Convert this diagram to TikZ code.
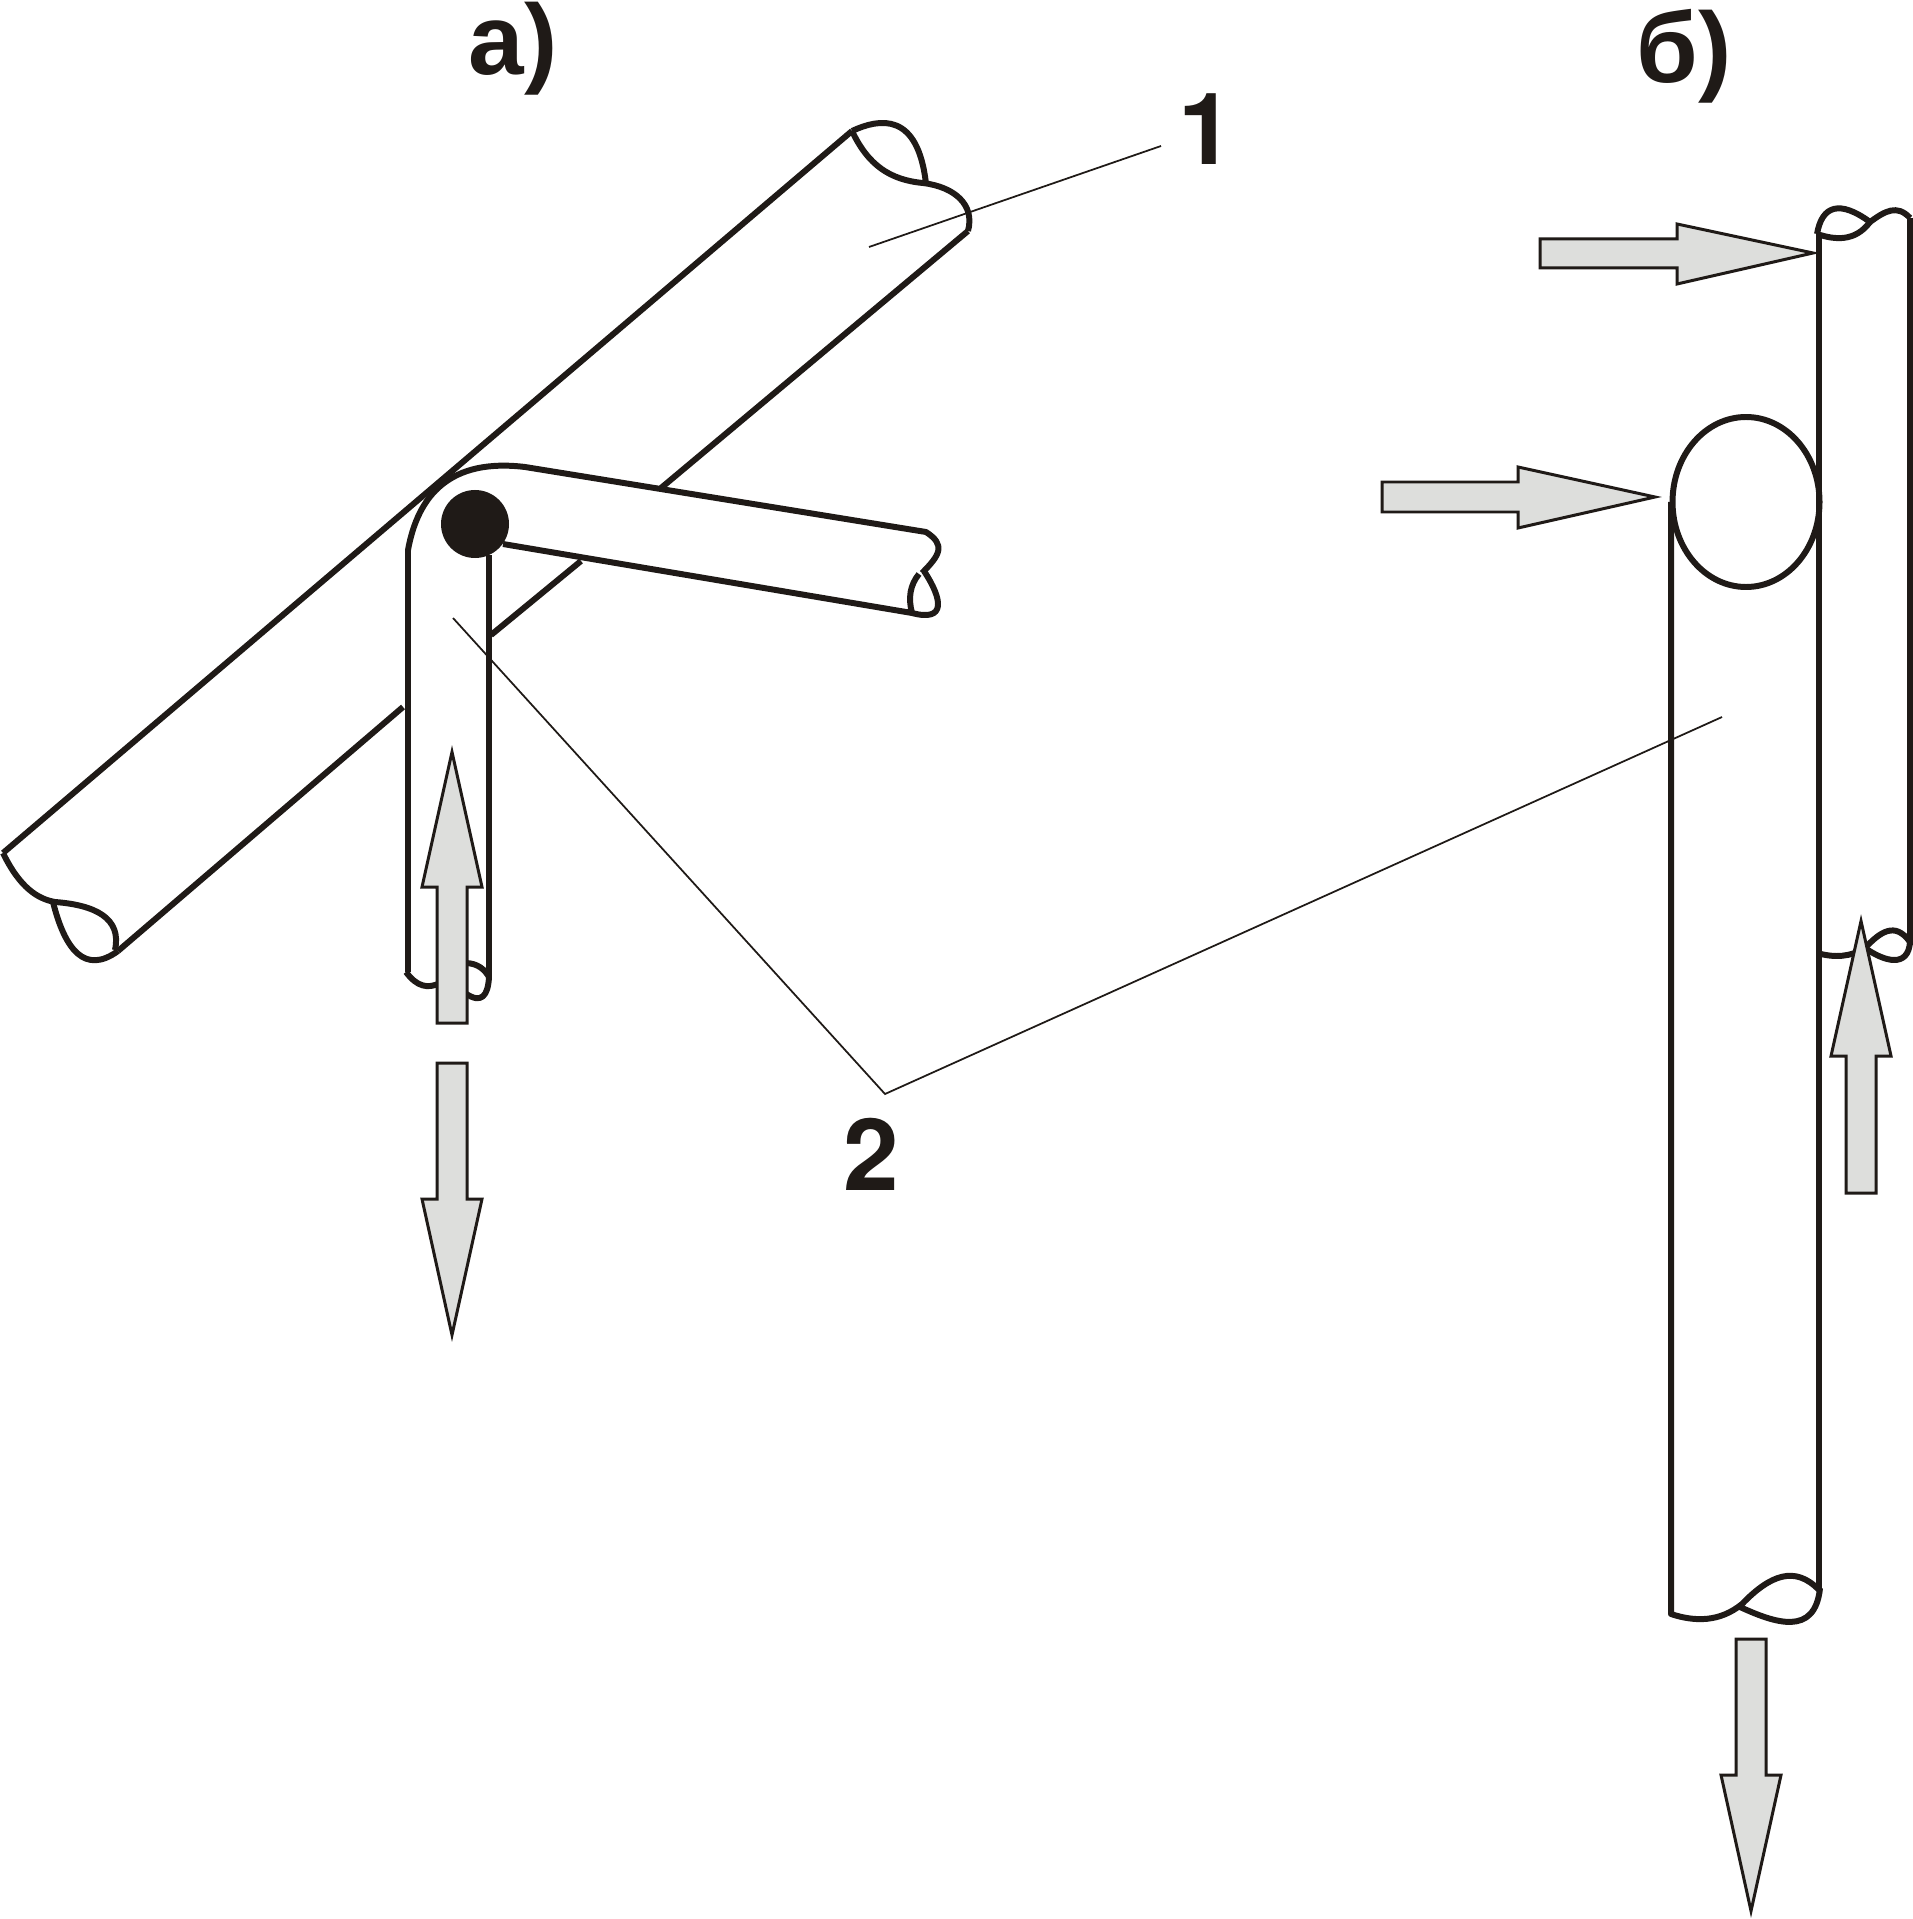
\documentclass[tikz,border=0pt]{standalone}
\usepackage{fontspec}
\setmainfont{Liberation Sans}
\newfontfamily\digitfont{TeX Gyre Heros}
\definecolor{ink}{HTML}{1F1A17}
\definecolor{arrowgrey}{HTML}{DDDEDC}
\tikzset{
  heavy/.style={draw=ink,line width=1.7pt,line join=round},
  leader/.style={draw=ink,line width=0.5pt},
  force/.style={draw=ink,fill=arrowgrey,line width=0.85pt,line join=miter},
  label/.style={text=ink,font=\fontsize{28.4pt}{30pt}\selectfont\bfseries,inner sep=0pt,anchor=base west},
  digit/.style={text=ink,font=\fontsize{28.4pt}{30pt}\digitfont\bfseries,inner sep=0pt,anchor=base west}
}
\begin{document}
\begin{tikzpicture}[x=0.01cm,y=-0.01cm]
\useasboundingbox (0,0) rectangle (1913,1919);
% labels
\node[label] (la) at (468,75) {а)};
\node[label] (lb) at (1636,83) {б)};
\node[digit] (n1) at (1178,165) {1};
\node[digit] (n2) at (843,1190) {2};
% tube 1
\draw[heavy] (852,131) -- (3,853);
\draw[heavy] (968,231) -- (661,488);
\draw[heavy] (581,561) -- (491,635);
\draw[heavy] (403,707) -- (118,951);
% tube 1 upper end
\draw[heavy] (852,131) .. controls (880,118) and (918,112) .. (926,184);
\draw[heavy] (852,131) .. controls (868,165) and (890,180) .. (923,183)
  .. controls (955,187) and (975,205) .. (968,231);
% tube 1 lower end
\draw[heavy] (3,853) .. controls (20,888) and (38,899) .. (55,902)
  .. controls (95,905) and (122,918) .. (115,950);
\draw[heavy] (53,902) .. controls (65,950) and (85,975) .. (118,951);
% arm 2
\draw[heavy] (408,972) -- (408,550) .. controls (418,495) and (450,458) .. (525,467) -- (926,532)
  .. controls (946,545) and (940,555) .. (922,573);
\draw[heavy] (924,571) .. controls (943,600) and (946,622) .. (912,613) -- (503,544);
\draw[heavy] (919,574) .. controls (910,585) and (908,598) .. (912,613);
\draw[heavy] (489,555) -- (489,977);
\draw[heavy] (406,972) .. controls (417,987) and (428,989) .. (440,983);
\draw[heavy] (465,963) .. controls (478,963) and (485,970) .. (489,977)
  .. controls (488,995) and (482,1005) .. (465,993);
\fill[ink] (475,524) circle[radius=34];
% tube b, long
\draw[heavy] (1671,502) -- (1671,1614) .. controls (1695,1622) and (1720,1622) .. (1742,1604)
  .. controls (1770,1575) and (1795,1565) .. (1819,1590);
\draw[heavy] (1740,1607) .. controls (1775,1623) and (1815,1637) .. (1820,1588);
\draw[heavy] (1819,233) -- (1819,1590);
\draw[heavy] (1746,502) ellipse[x radius=73.5,y radius=85];
% tube b, narrow
\draw[heavy] (1910,218) -- (1910,945);
\draw[heavy] (1817,234) .. controls (1822,205) and (1840,200) .. (1870,222)
  .. controls (1885,211) and (1897,204) .. (1910,218);
\draw[heavy] (1817,234) .. controls (1835,240) and (1855,242) .. (1870,222);
\draw[heavy] (1817,953) .. controls (1835,958) and (1850,957) .. (1865,948)
  .. controls (1880,932) and (1895,921) .. (1910,942);
\draw[heavy] (1865,948) .. controls (1885,962) and (1908,968) .. (1910,942);
% leaders
\coordinate (l1a) at (869,247);
\coordinate (l1b) at (1161,146);
\coordinate (l2a) at (453,618);
\coordinate (l2k) at (885,1094);
\coordinate (l2b) at (1722,717);
\draw[leader] (l1a) -- (l1b);
\draw[leader] (l2a) -- (l2k) -- (l2b);
% force arrows
\draw[force] (452,752) -- (482,887) -- (467,887) -- (467,1023) -- (437,1023) -- (437,887) -- (422,887) -- cycle;
\draw[force] (452,1335) -- (482,1199) -- (467,1199) -- (467,1063) -- (437,1063) -- (437,1199) -- (422,1199) -- cycle;
\draw[force] (1813,253) -- (1677,224) -- (1677,239) -- (1540,239) -- (1540,268) -- (1677,268) -- (1677,284) -- cycle;
\draw[force] (1655,497) -- (1518,467) -- (1518,482) -- (1382,482) -- (1382,512) -- (1518,512) -- (1518,528) -- cycle;
\draw[force] (1861,921) -- (1891,1056) -- (1876,1056) -- (1876,1193) -- (1846,1193) -- (1846,1056) -- (1831,1056) -- cycle;
\draw[force] (1751,1911) -- (1781,1775) -- (1766,1775) -- (1766,1639) -- (1736,1639) -- (1736,1775) -- (1721,1775) -- cycle;
\end{tikzpicture}
\end{document}
